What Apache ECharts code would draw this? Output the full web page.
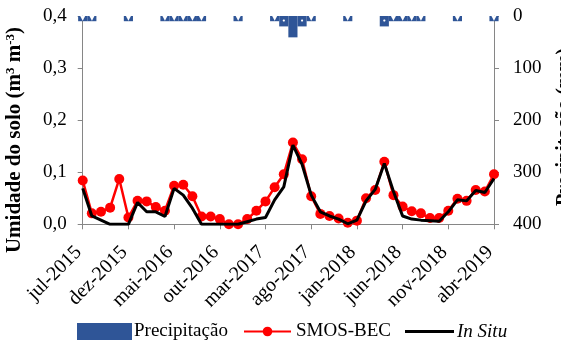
<!DOCTYPE html>
<html>
<head>
<meta charset="utf-8">
<script src="https://cdn.jsdelivr.net/npm/echarts@6/dist/echarts.min.js"></script>
<style>
  html, body { margin: 0; padding: 0; background: #fff; }
  #chart { width: 561px; height: 344px; }
</style>
</head>
<body>
<div id="chart"></div>
<script>
// Monthly categories, jul-2015 .. abr-2019
const months = [
  'jul-2015','ago-2015','set-2015','out-2015','nov-2015','dez-2015',
  'jan-2016','fev-2016','mar-2016','abr-2016','mai-2016','jun-2016',
  'jul-2016','ago-2016','set-2016','out-2016','nov-2016','dez-2016',
  'jan-2017','fev-2017','mar-2017','abr-2017','mai-2017','jun-2017',
  'jul-2017','ago-2017','set-2017','out-2017','nov-2017','dez-2017',
  'jan-2018','fev-2018','mar-2018','abr-2018','mai-2018','jun-2018',
  'jul-2018','ago-2018','set-2018','out-2018','nov-2018','dez-2018',
  'jan-2019','fev-2019','mar-2019','abr-2019'
];

// Soil moisture, m3 m-3
const smosBec = [
  0.084, 0.021, 0.024, 0.032, 0.087, 0.013, 0.045, 0.044, 0.033, 0.026,
  0.074, 0.076, 0.054, 0.015, 0.015, 0.010, 0.000, 0.000, 0.010, 0.026,
  0.044, 0.071, 0.096, 0.157, 0.125, 0.054, 0.020, 0.016, 0.011, 0.003,
  0.007, 0.050, 0.066, 0.120, 0.056, 0.034, 0.025, 0.021, 0.012, 0.012,
  0.026, 0.049, 0.045, 0.066, 0.063, 0.096
];
const inSitu = [
  0.069, 0.016, 0.008, 0.000, 0.000, 0.000, 0.042, 0.024, 0.024, 0.015,
  0.069, 0.056, 0.031, 0.000, 0.000, 0.000, 0.000, 0.000, 0.005, 0.010,
  0.013, 0.047, 0.072, 0.152, 0.115, 0.056, 0.024, 0.016, 0.010, 0.001,
  0.008, 0.045, 0.067, 0.117, 0.063, 0.016, 0.010, 0.008, 0.007, 0.006,
  0.024, 0.047, 0.045, 0.065, 0.061, 0.088
];

// Monthly rainfall, mm (right axis, inverted)
const precipitacao = [
  10, 10, 0, 0, 0, 10, 0, 0, 0, 10,
  10, 10, 10, 10, 0, 0, 0, 10, 0, 0,
  0, 10, 20, 41, 20, 10, 0, 0, 0, 10,
  0, 0, 0, 20, 10, 10, 10, 10, 0, 0,
  0, 10, 0, 0, 0, 10
];

const leftTicks = [0, 0.1, 0.2, 0.3, 0.4];
const rightTicks = [0, 100, 200, 300, 400];
const LABEL_STEP = 5;   // one month label every five months

const SERIF = '"Liberation Serif", "Times New Roman", serif';
const FS = 19;

const chart = echarts.init(document.getElementById('chart'), null, { renderer: 'canvas' });

chart.setOption({
  animation: false,
  backgroundColor: '#ffffff',
  textStyle: { fontFamily: SERIF, color: '#000' },
  grid: { left: 82.7, right: 67, top: 16, bottom: 119.7, containLabel: false },
  xAxis: {
    type: 'category',
    data: months,
    boundaryGap: false,
    axisLine: { lineStyle: { color: '#868686', width: 1 } },
    axisTick: { show: true, interval: LABEL_STEP - 1, length: 5, inside: false, lineStyle: { color: '#868686' } },
    axisLabel: { show: false },
    splitLine: { show: false }
  },
  yAxis: [
    {
      type: 'value',
      min: leftTicks[0], max: leftTicks[leftTicks.length - 1], interval: 0.1,
      axisLine: { show: true, lineStyle: { color: '#868686' } },
      axisTick: { show: true, length: 5, lineStyle: { color: '#868686' } },
      axisLabel: {
        margin: 16, fontFamily: SERIF, fontSize: FS, color: '#000',
        formatter: v => v.toFixed(1).replace('.', ',')
      },
      splitLine: { show: false }
    },
    {
      type: 'value',
      inverse: true,
      min: rightTicks[0], max: rightTicks[rightTicks.length - 1], interval: 100,
      position: 'right',
      axisLine: { show: true, lineStyle: { color: '#868686' } },
      axisTick: { show: true, length: 5, lineStyle: { color: '#868686' } },
      axisLabel: { margin: 19, fontFamily: SERIF, fontSize: FS, color: '#000' },
      splitLine: { show: false }
    }
  ],
  legend: [
    {
      data: [{ name: 'Precipitação', icon: 'rect' }],
      left: 77, top: 322, itemWidth: 55, itemHeight: 17, padding: 0,
      textStyle: { fontFamily: SERIF, fontSize: FS, color: '#000', padding: [0, 0, 0, -3] }
    },
    {
      data: ['SMOS-BEC'],
      left: 243, top: 322, itemWidth: 47, itemHeight: 12, padding: 0,
      textStyle: { fontFamily: SERIF, fontSize: FS, color: '#000' }
    },
    {
      data: [{ name: 'In Situ', icon: 'rect' }],
      left: 405, top: 322, itemWidth: 49, itemHeight: 3, padding: 0,
      itemStyle: { color: '#000000' },
      textStyle: { fontFamily: SERIF, fontSize: FS, color: '#000', fontStyle: 'italic', padding: [0, 0, 0, -2] }
    }
  ],
  series: [
    {
      name: 'Precipitação',
      type: 'bar',
      yAxisIndex: 1,
      data: precipitacao,
      barCategoryGap: '0%',
      itemStyle: { color: '#2F5597' },
      label: {
        show: true,
        position: 'inside',
        color: '#ffffff',
        fontSize: 7,
        fontFamily: 'DejaVu Sans',
        formatter: p => (p.value <= 0 ? '' : p.value <= 12 ? '▼' : p.value <= 30 ? '•' : '')
      }
    },
    {
      name: 'SMOS-BEC',
      type: 'line',
      data: smosBec,
      symbol: 'circle',
      symbolSize: 10,
      showAllSymbol: true,
      lineStyle: { color: '#ff0000', width: 2.5 },
      itemStyle: { color: '#ff0000' },
      z: 3
    },
    {
      name: 'In Situ',
      type: 'line',
      data: inSitu,
      symbol: 'none',
      lineStyle: { color: '#000000', width: 3 },
      itemStyle: { color: '#000000' },
      z: 4
    }
  ]
});

// Axis titles and the 45-degree month labels, placed from the category scale
const axisY = chart.convertToPixel({ yAxisIndex: 0 }, 0);
const graphics = [
  {
    type: 'text',
    x: 15, y: 140,
    rotation: Math.PI / 2,
    style: {
      text: 'Umidade do solo (m{sup|3} m{sup|-3})',
      fontFamily: SERIF, fontSize: 21, fontWeight: 'bold', fill: '#000',
      align: 'center', verticalAlign: 'middle',
      rich: {
        sup: { fontFamily: SERIF, fontSize: 13, fontWeight: 'bold', verticalAlign: 'top', padding: [0, 0, 7, 0] }
      }
    }
  },
  {
    type: 'text',
    x: 565, y: 127,
    rotation: Math.PI / 2,
    style: {
      text: 'Precipitação (mm)',
      fontFamily: SERIF, fontSize: 20, fontWeight: 'bold', fill: '#000',
      align: 'center', verticalAlign: 'middle'
    }
  }
];
months.forEach((m, i) => {
  if (i % LABEL_STEP !== 0) return;
  const x = chart.convertToPixel({ xAxisIndex: 0 }, m);
  graphics.push({
    type: 'text',
    x: x - 4, y: axisY + 25,
    rotation: Math.PI / 4,
    style: {
      text: m,
      fontFamily: SERIF, fontSize: 20, fill: '#000',
      align: 'right', verticalAlign: 'middle'
    }
  });
});
chart.setOption({ graphic: graphics });
</script>
</body>
</html>
